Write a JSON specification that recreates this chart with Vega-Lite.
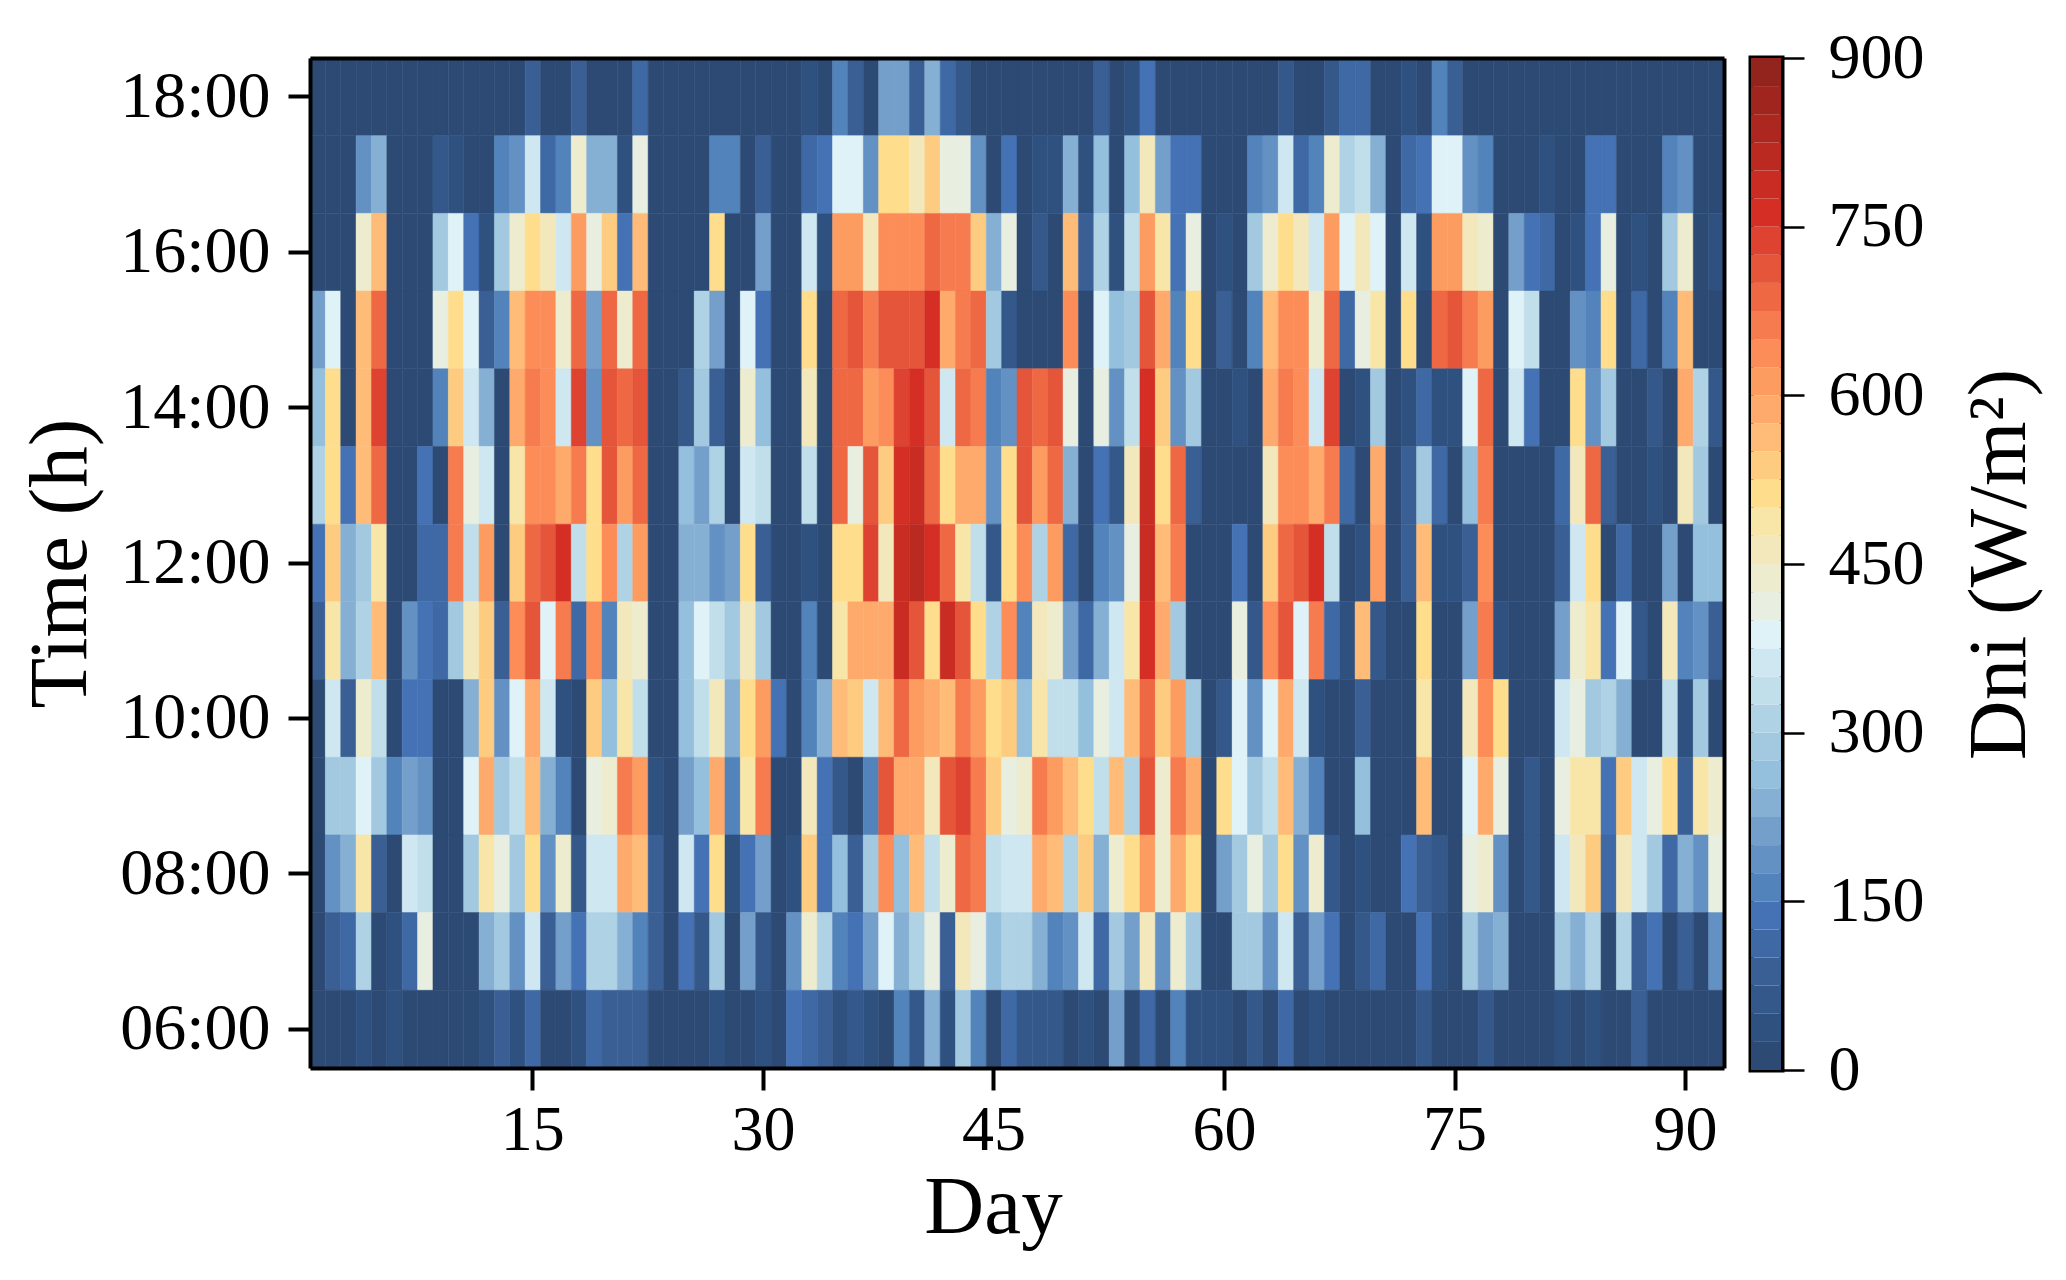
{"$schema":"https://vega.github.io/schema/vega-lite/v6.json","background":"white","padding":{"left":19,"top":23,"right":10,"bottom":10},"spacing":23,"bounds":"full","config":{"font":"Liberation Serif","view":{"stroke":null},"axis":{"labelFont":"Liberation Serif","titleFont":"Liberation Serif","labelColor":"black","titleColor":"black","titleFontWeight":"normal","grid":false}},"datasets":{"cells":[
{"day":1,"hour":18,"dni":12},{"day":2,"hour":18,"dni":12},{"day":3,"hour":18,"dni":12},{"day":4,"hour":18,"dni":12},{"day":5,"hour":18,"dni":12},{"day":6,"hour":18,"dni":12},{"day":7,"hour":18,"dni":12},{"day":8,"hour":18,"dni":12},{"day":9,"hour":18,"dni":12},{"day":10,"hour":18,"dni":12},{"day":11,"hour":18,"dni":12},{"day":12,"hour":18,"dni":12},{"day":13,"hour":18,"dni":12},{"day":14,"hour":18,"dni":12},{"day":15,"hour":18,"dni":87},{"day":16,"hour":18,"dni":12},{"day":17,"hour":18,"dni":12},{"day":18,"hour":18,"dni":87},{"day":19,"hour":18,"dni":12},{"day":20,"hour":18,"dni":12},{"day":21,"hour":18,"dni":12},{"day":22,"hour":18,"dni":112},{"day":23,"hour":18,"dni":12},{"day":24,"hour":18,"dni":12},{"day":25,"hour":18,"dni":12},{"day":26,"hour":18,"dni":12},{"day":27,"hour":18,"dni":12},{"day":28,"hour":18,"dni":12},{"day":29,"hour":18,"dni":12},{"day":30,"hour":18,"dni":12},{"day":31,"hour":18,"dni":12},{"day":32,"hour":18,"dni":12},{"day":33,"hour":18,"dni":37},{"day":34,"hour":18,"dni":12},{"day":35,"hour":18,"dni":162},{"day":36,"hour":18,"dni":87},{"day":37,"hour":18,"dni":12},{"day":38,"hour":18,"dni":212},{"day":39,"hour":18,"dni":212},{"day":40,"hour":18,"dni":87},{"day":41,"hour":18,"dni":237},{"day":42,"hour":18,"dni":112},{"day":43,"hour":18,"dni":62},{"day":44,"hour":18,"dni":12},{"day":45,"hour":18,"dni":12},{"day":46,"hour":18,"dni":12},{"day":47,"hour":18,"dni":12},{"day":48,"hour":18,"dni":12},{"day":49,"hour":18,"dni":12},{"day":50,"hour":18,"dni":12},{"day":51,"hour":18,"dni":12},{"day":52,"hour":18,"dni":87},{"day":53,"hour":18,"dni":12},{"day":54,"hour":18,"dni":37},{"day":55,"hour":18,"dni":137},{"day":56,"hour":18,"dni":12},{"day":57,"hour":18,"dni":12},{"day":58,"hour":18,"dni":12},{"day":59,"hour":18,"dni":12},{"day":60,"hour":18,"dni":12},{"day":61,"hour":18,"dni":12},{"day":62,"hour":18,"dni":12},{"day":63,"hour":18,"dni":12},{"day":64,"hour":18,"dni":62},{"day":65,"hour":18,"dni":12},{"day":66,"hour":18,"dni":12},{"day":67,"hour":18,"dni":62},{"day":68,"hour":18,"dni":112},{"day":69,"hour":18,"dni":112},{"day":70,"hour":18,"dni":12},{"day":71,"hour":18,"dni":12},{"day":72,"hour":18,"dni":37},{"day":73,"hour":18,"dni":12},{"day":74,"hour":18,"dni":162},{"day":75,"hour":18,"dni":87},{"day":76,"hour":18,"dni":12},{"day":77,"hour":18,"dni":12},{"day":78,"hour":18,"dni":12},{"day":79,"hour":18,"dni":12},{"day":80,"hour":18,"dni":12},{"day":81,"hour":18,"dni":12},{"day":82,"hour":18,"dni":12},{"day":83,"hour":18,"dni":12},{"day":84,"hour":18,"dni":12},{"day":85,"hour":18,"dni":12},{"day":86,"hour":18,"dni":12},{"day":87,"hour":18,"dni":12},{"day":88,"hour":18,"dni":12},{"day":89,"hour":18,"dni":12},{"day":90,"hour":18,"dni":12},{"day":91,"hour":18,"dni":12},{"day":92,"hour":18,"dni":12},
{"day":1,"hour":17,"dni":12},{"day":2,"hour":17,"dni":12},{"day":3,"hour":17,"dni":12},{"day":4,"hour":17,"dni":187},{"day":5,"hour":17,"dni":237},{"day":6,"hour":17,"dni":12},{"day":7,"hour":17,"dni":12},{"day":8,"hour":17,"dni":12},{"day":9,"hour":17,"dni":62},{"day":10,"hour":17,"dni":37},{"day":11,"hour":17,"dni":12},{"day":12,"hour":17,"dni":12},{"day":13,"hour":17,"dni":162},{"day":14,"hour":17,"dni":187},{"day":15,"hour":17,"dni":362},{"day":16,"hour":17,"dni":112},{"day":17,"hour":17,"dni":162},{"day":18,"hour":17,"dni":437},{"day":19,"hour":17,"dni":237},{"day":20,"hour":17,"dni":237},{"day":21,"hour":17,"dni":37},{"day":22,"hour":17,"dni":412},{"day":23,"hour":17,"dni":12},{"day":24,"hour":17,"dni":12},{"day":25,"hour":17,"dni":12},{"day":26,"hour":17,"dni":12},{"day":27,"hour":17,"dni":162},{"day":28,"hour":17,"dni":162},{"day":29,"hour":17,"dni":12},{"day":30,"hour":17,"dni":87},{"day":31,"hour":17,"dni":12},{"day":32,"hour":17,"dni":12},{"day":33,"hour":17,"dni":112},{"day":34,"hour":17,"dni":137},{"day":35,"hour":17,"dni":387},{"day":36,"hour":17,"dni":387},{"day":37,"hour":17,"dni":187},{"day":38,"hour":17,"dni":512},{"day":39,"hour":17,"dni":512},{"day":40,"hour":17,"dni":462},{"day":41,"hour":17,"dni":537},{"day":42,"hour":17,"dni":412},{"day":43,"hour":17,"dni":412},{"day":44,"hour":17,"dni":187},{"day":45,"hour":17,"dni":12},{"day":46,"hour":17,"dni":137},{"day":47,"hour":17,"dni":12},{"day":48,"hour":17,"dni":37},{"day":49,"hour":17,"dni":37},{"day":50,"hour":17,"dni":237},{"day":51,"hour":17,"dni":37},{"day":52,"hour":17,"dni":262},{"day":53,"hour":17,"dni":12},{"day":54,"hour":17,"dni":262},{"day":55,"hour":17,"dni":462},{"day":56,"hour":17,"dni":212},{"day":57,"hour":17,"dni":137},{"day":58,"hour":17,"dni":137},{"day":59,"hour":17,"dni":12},{"day":60,"hour":17,"dni":12},{"day":61,"hour":17,"dni":12},{"day":62,"hour":17,"dni":162},{"day":63,"hour":17,"dni":187},{"day":64,"hour":17,"dni":362},{"day":65,"hour":17,"dni":112},{"day":66,"hour":17,"dni":162},{"day":67,"hour":17,"dni":437},{"day":68,"hour":17,"dni":312},{"day":69,"hour":17,"dni":337},{"day":70,"hour":17,"dni":237},{"day":71,"hour":17,"dni":12},{"day":72,"hour":17,"dni":112},{"day":73,"hour":17,"dni":137},{"day":74,"hour":17,"dni":387},{"day":75,"hour":17,"dni":387},{"day":76,"hour":17,"dni":187},{"day":77,"hour":17,"dni":162},{"day":78,"hour":17,"dni":12},{"day":79,"hour":17,"dni":12},{"day":80,"hour":17,"dni":12},{"day":81,"hour":17,"dni":37},{"day":82,"hour":17,"dni":12},{"day":83,"hour":17,"dni":12},{"day":84,"hour":17,"dni":137},{"day":85,"hour":17,"dni":137},{"day":86,"hour":17,"dni":12},{"day":87,"hour":17,"dni":12},{"day":88,"hour":17,"dni":12},{"day":89,"hour":17,"dni":162},{"day":90,"hour":17,"dni":187},{"day":91,"hour":17,"dni":12},{"day":92,"hour":17,"dni":12},
{"day":1,"hour":16,"dni":12},{"day":2,"hour":16,"dni":12},{"day":3,"hour":16,"dni":12},{"day":4,"hour":16,"dni":437},{"day":5,"hour":16,"dni":562},{"day":6,"hour":16,"dni":12},{"day":7,"hour":16,"dni":12},{"day":8,"hour":16,"dni":12},{"day":9,"hour":16,"dni":287},{"day":10,"hour":16,"dni":387},{"day":11,"hour":16,"dni":137},{"day":12,"hour":16,"dni":37},{"day":13,"hour":16,"dni":287},{"day":14,"hour":16,"dni":437},{"day":15,"hour":16,"dni":512},{"day":16,"hour":16,"dni":462},{"day":17,"hour":16,"dni":362},{"day":18,"hour":16,"dni":612},{"day":19,"hour":16,"dni":412},{"day":20,"hour":16,"dni":537},{"day":21,"hour":16,"dni":137},{"day":22,"hour":16,"dni":562},{"day":23,"hour":16,"dni":12},{"day":24,"hour":16,"dni":12},{"day":25,"hour":16,"dni":12},{"day":26,"hour":16,"dni":12},{"day":27,"hour":16,"dni":512},{"day":28,"hour":16,"dni":12},{"day":29,"hour":16,"dni":12},{"day":30,"hour":16,"dni":212},{"day":31,"hour":16,"dni":12},{"day":32,"hour":16,"dni":12},{"day":33,"hour":16,"dni":362},{"day":34,"hour":16,"dni":37},{"day":35,"hour":16,"dni":612},{"day":36,"hour":16,"dni":612},{"day":37,"hour":16,"dni":462},{"day":38,"hour":16,"dni":637},{"day":39,"hour":16,"dni":637},{"day":40,"hour":16,"dni":637},{"day":41,"hour":16,"dni":687},{"day":42,"hour":16,"dni":662},{"day":43,"hour":16,"dni":662},{"day":44,"hour":16,"dni":537},{"day":45,"hour":16,"dni":237},{"day":46,"hour":16,"dni":412},{"day":47,"hour":16,"dni":12},{"day":48,"hour":16,"dni":62},{"day":49,"hour":16,"dni":12},{"day":50,"hour":16,"dni":562},{"day":51,"hour":16,"dni":87},{"day":52,"hour":16,"dni":312},{"day":53,"hour":16,"dni":37},{"day":54,"hour":16,"dni":337},{"day":55,"hour":16,"dni":612},{"day":56,"hour":16,"dni":487},{"day":57,"hour":16,"dni":137},{"day":58,"hour":16,"dni":412},{"day":59,"hour":16,"dni":12},{"day":60,"hour":16,"dni":37},{"day":61,"hour":16,"dni":12},{"day":62,"hour":16,"dni":287},{"day":63,"hour":16,"dni":437},{"day":64,"hour":16,"dni":512},{"day":65,"hour":16,"dni":462},{"day":66,"hour":16,"dni":362},{"day":67,"hour":16,"dni":612},{"day":68,"hour":16,"dni":387},{"day":69,"hour":16,"dni":462},{"day":70,"hour":16,"dni":387},{"day":71,"hour":16,"dni":12},{"day":72,"hour":16,"dni":362},{"day":73,"hour":16,"dni":37},{"day":74,"hour":16,"dni":612},{"day":75,"hour":16,"dni":612},{"day":76,"hour":16,"dni":462},{"day":77,"hour":16,"dni":437},{"day":78,"hour":16,"dni":12},{"day":79,"hour":16,"dni":212},{"day":80,"hour":16,"dni":137},{"day":81,"hour":16,"dni":112},{"day":82,"hour":16,"dni":12},{"day":83,"hour":16,"dni":37},{"day":84,"hour":16,"dni":137},{"day":85,"hour":16,"dni":412},{"day":86,"hour":16,"dni":12},{"day":87,"hour":16,"dni":37},{"day":88,"hour":16,"dni":12},{"day":89,"hour":16,"dni":287},{"day":90,"hour":16,"dni":437},{"day":91,"hour":16,"dni":12},{"day":92,"hour":16,"dni":37},
{"day":1,"hour":15,"dni":212},{"day":2,"hour":15,"dni":387},{"day":3,"hour":15,"dni":12},{"day":4,"hour":15,"dni":562},{"day":5,"hour":15,"dni":687},{"day":6,"hour":15,"dni":12},{"day":7,"hour":15,"dni":12},{"day":8,"hour":15,"dni":12},{"day":9,"hour":15,"dni":412},{"day":10,"hour":15,"dni":512},{"day":11,"hour":15,"dni":387},{"day":12,"hour":15,"dni":87},{"day":13,"hour":15,"dni":162},{"day":14,"hour":15,"dni":562},{"day":15,"hour":15,"dni":637},{"day":16,"hour":15,"dni":637},{"day":17,"hour":15,"dni":437},{"day":18,"hour":15,"dni":687},{"day":19,"hour":15,"dni":212},{"day":20,"hour":15,"dni":687},{"day":21,"hour":15,"dni":437},{"day":22,"hour":15,"dni":687},{"day":23,"hour":15,"dni":12},{"day":24,"hour":15,"dni":12},{"day":25,"hour":15,"dni":12},{"day":26,"hour":15,"dni":312},{"day":27,"hour":15,"dni":212},{"day":28,"hour":15,"dni":12},{"day":29,"hour":15,"dni":387},{"day":30,"hour":15,"dni":137},{"day":31,"hour":15,"dni":12},{"day":32,"hour":15,"dni":12},{"day":33,"hour":15,"dni":512},{"day":34,"hour":15,"dni":12},{"day":35,"hour":15,"dni":687},{"day":36,"hour":15,"dni":712},{"day":37,"hour":15,"dni":662},{"day":38,"hour":15,"dni":712},{"day":39,"hour":15,"dni":712},{"day":40,"hour":15,"dni":712},{"day":41,"hour":15,"dni":762},{"day":42,"hour":15,"dni":587},{"day":43,"hour":15,"dni":662},{"day":44,"hour":15,"dni":687},{"day":45,"hour":15,"dni":287},{"day":46,"hour":15,"dni":62},{"day":47,"hour":15,"dni":12},{"day":48,"hour":15,"dni":12},{"day":49,"hour":15,"dni":12},{"day":50,"hour":15,"dni":637},{"day":51,"hour":15,"dni":12},{"day":52,"hour":15,"dni":387},{"day":53,"hour":15,"dni":262},{"day":54,"hour":15,"dni":287},{"day":55,"hour":15,"dni":712},{"day":56,"hour":15,"dni":587},{"day":57,"hour":15,"dni":162},{"day":58,"hour":15,"dni":512},{"day":59,"hour":15,"dni":12},{"day":60,"hour":15,"dni":87},{"day":61,"hour":15,"dni":12},{"day":62,"hour":15,"dni":162},{"day":63,"hour":15,"dni":562},{"day":64,"hour":15,"dni":637},{"day":65,"hour":15,"dni":637},{"day":66,"hour":15,"dni":437},{"day":67,"hour":15,"dni":687},{"day":68,"hour":15,"dni":112},{"day":69,"hour":15,"dni":412},{"day":70,"hour":15,"dni":487},{"day":71,"hour":15,"dni":12},{"day":72,"hour":15,"dni":512},{"day":73,"hour":15,"dni":12},{"day":74,"hour":15,"dni":687},{"day":75,"hour":15,"dni":712},{"day":76,"hour":15,"dni":662},{"day":77,"hour":15,"dni":612},{"day":78,"hour":15,"dni":12},{"day":79,"hour":15,"dni":387},{"day":80,"hour":15,"dni":337},{"day":81,"hour":15,"dni":12},{"day":82,"hour":15,"dni":12},{"day":83,"hour":15,"dni":187},{"day":84,"hour":15,"dni":162},{"day":85,"hour":15,"dni":512},{"day":86,"hour":15,"dni":12},{"day":87,"hour":15,"dni":112},{"day":88,"hour":15,"dni":12},{"day":89,"hour":15,"dni":162},{"day":90,"hour":15,"dni":562},{"day":91,"hour":15,"dni":12},{"day":92,"hour":15,"dni":12},
{"day":1,"hour":14,"dni":262},{"day":2,"hour":14,"dni":512},{"day":3,"hour":14,"dni":12},{"day":4,"hour":14,"dni":562},{"day":5,"hour":14,"dni":737},{"day":6,"hour":14,"dni":12},{"day":7,"hour":14,"dni":12},{"day":8,"hour":14,"dni":12},{"day":9,"hour":14,"dni":162},{"day":10,"hour":14,"dni":537},{"day":11,"hour":14,"dni":362},{"day":12,"hour":14,"dni":237},{"day":13,"hour":14,"dni":12},{"day":14,"hour":14,"dni":587},{"day":15,"hour":14,"dni":662},{"day":16,"hour":14,"dni":637},{"day":17,"hour":14,"dni":362},{"day":18,"hour":14,"dni":737},{"day":19,"hour":14,"dni":187},{"day":20,"hour":14,"dni":712},{"day":21,"hour":14,"dni":687},{"day":22,"hour":14,"dni":712},{"day":23,"hour":14,"dni":12},{"day":24,"hour":14,"dni":12},{"day":25,"hour":14,"dni":62},{"day":26,"hour":14,"dni":287},{"day":27,"hour":14,"dni":87},{"day":28,"hour":14,"dni":12},{"day":29,"hour":14,"dni":437},{"day":30,"hour":14,"dni":262},{"day":31,"hour":14,"dni":12},{"day":32,"hour":14,"dni":12},{"day":33,"hour":14,"dni":462},{"day":34,"hour":14,"dni":12},{"day":35,"hour":14,"dni":687},{"day":36,"hour":14,"dni":687},{"day":37,"hour":14,"dni":612},{"day":38,"hour":14,"dni":637},{"day":39,"hour":14,"dni":737},{"day":40,"hour":14,"dni":762},{"day":41,"hour":14,"dni":712},{"day":42,"hour":14,"dni":362},{"day":43,"hour":14,"dni":687},{"day":44,"hour":14,"dni":662},{"day":45,"hour":14,"dni":162},{"day":46,"hour":14,"dni":187},{"day":47,"hour":14,"dni":712},{"day":48,"hour":14,"dni":687},{"day":49,"hour":14,"dni":712},{"day":50,"hour":14,"dni":412},{"day":51,"hour":14,"dni":12},{"day":52,"hour":14,"dni":412},{"day":53,"hour":14,"dni":187},{"day":54,"hour":14,"dni":337},{"day":55,"hour":14,"dni":762},{"day":56,"hour":14,"dni":537},{"day":57,"hour":14,"dni":187},{"day":58,"hour":14,"dni":287},{"day":59,"hour":14,"dni":12},{"day":60,"hour":14,"dni":12},{"day":61,"hour":14,"dni":37},{"day":62,"hour":14,"dni":12},{"day":63,"hour":14,"dni":587},{"day":64,"hour":14,"dni":662},{"day":65,"hour":14,"dni":637},{"day":66,"hour":14,"dni":362},{"day":67,"hour":14,"dni":737},{"day":68,"hour":14,"dni":12},{"day":69,"hour":14,"dni":37},{"day":70,"hour":14,"dni":287},{"day":71,"hour":14,"dni":12},{"day":72,"hour":14,"dni":37},{"day":73,"hour":14,"dni":112},{"day":74,"hour":14,"dni":37},{"day":75,"hour":14,"dni":37},{"day":76,"hour":14,"dni":387},{"day":77,"hour":14,"dni":687},{"day":78,"hour":14,"dni":12},{"day":79,"hour":14,"dni":362},{"day":80,"hour":14,"dni":137},{"day":81,"hour":14,"dni":12},{"day":82,"hour":14,"dni":12},{"day":83,"hour":14,"dni":512},{"day":84,"hour":14,"dni":187},{"day":85,"hour":14,"dni":287},{"day":86,"hour":14,"dni":12},{"day":87,"hour":14,"dni":12},{"day":88,"hour":14,"dni":62},{"day":89,"hour":14,"dni":12},{"day":90,"hour":14,"dni":587},{"day":91,"hour":14,"dni":312},{"day":92,"hour":14,"dni":62},
{"day":1,"hour":13,"dni":312},{"day":2,"hour":13,"dni":512},{"day":3,"hour":13,"dni":137},{"day":4,"hour":13,"dni":562},{"day":5,"hour":13,"dni":687},{"day":6,"hour":13,"dni":12},{"day":7,"hour":13,"dni":12},{"day":8,"hour":13,"dni":137},{"day":9,"hour":13,"dni":12},{"day":10,"hour":13,"dni":662},{"day":11,"hour":13,"dni":412},{"day":12,"hour":13,"dni":362},{"day":13,"hour":13,"dni":12},{"day":14,"hour":13,"dni":487},{"day":15,"hour":13,"dni":637},{"day":16,"hour":13,"dni":637},{"day":17,"hour":13,"dni":587},{"day":18,"hour":13,"dni":662},{"day":19,"hour":13,"dni":512},{"day":20,"hour":13,"dni":712},{"day":21,"hour":13,"dni":612},{"day":22,"hour":13,"dni":687},{"day":23,"hour":13,"dni":12},{"day":24,"hour":13,"dni":12},{"day":25,"hour":13,"dni":262},{"day":26,"hour":13,"dni":212},{"day":27,"hour":13,"dni":312},{"day":28,"hour":13,"dni":12},{"day":29,"hour":13,"dni":362},{"day":30,"hour":13,"dni":337},{"day":31,"hour":13,"dni":12},{"day":32,"hour":13,"dni":12},{"day":33,"hour":13,"dni":337},{"day":34,"hour":13,"dni":12},{"day":35,"hour":13,"dni":687},{"day":36,"hour":13,"dni":412},{"day":37,"hour":13,"dni":712},{"day":38,"hour":13,"dni":537},{"day":39,"hour":13,"dni":762},{"day":40,"hour":13,"dni":787},{"day":41,"hour":13,"dni":687},{"day":42,"hour":13,"dni":512},{"day":43,"hour":13,"dni":587},{"day":44,"hour":13,"dni":587},{"day":45,"hour":13,"dni":187},{"day":46,"hour":13,"dni":512},{"day":47,"hour":13,"dni":712},{"day":48,"hour":13,"dni":612},{"day":49,"hour":13,"dni":687},{"day":50,"hour":13,"dni":237},{"day":51,"hour":13,"dni":12},{"day":52,"hour":13,"dni":137},{"day":53,"hour":13,"dni":62},{"day":54,"hour":13,"dni":462},{"day":55,"hour":13,"dni":787},{"day":56,"hour":13,"dni":512},{"day":57,"hour":13,"dni":687},{"day":58,"hour":13,"dni":87},{"day":59,"hour":13,"dni":12},{"day":60,"hour":13,"dni":12},{"day":61,"hour":13,"dni":12},{"day":62,"hour":13,"dni":12},{"day":63,"hour":13,"dni":462},{"day":64,"hour":13,"dni":637},{"day":65,"hour":13,"dni":637},{"day":66,"hour":13,"dni":587},{"day":67,"hour":13,"dni":662},{"day":68,"hour":13,"dni":112},{"day":69,"hour":13,"dni":12},{"day":70,"hour":13,"dni":587},{"day":71,"hour":13,"dni":12},{"day":72,"hour":13,"dni":87},{"day":73,"hour":13,"dni":287},{"day":74,"hour":13,"dni":112},{"day":75,"hour":13,"dni":12},{"day":76,"hour":13,"dni":262},{"day":77,"hour":13,"dni":662},{"day":78,"hour":13,"dni":12},{"day":79,"hour":13,"dni":12},{"day":80,"hour":13,"dni":12},{"day":81,"hour":13,"dni":12},{"day":82,"hour":13,"dni":112},{"day":83,"hour":13,"dni":462},{"day":84,"hour":13,"dni":687},{"day":85,"hour":13,"dni":87},{"day":86,"hour":13,"dni":12},{"day":87,"hour":13,"dni":12},{"day":88,"hour":13,"dni":37},{"day":89,"hour":13,"dni":12},{"day":90,"hour":13,"dni":462},{"day":91,"hour":13,"dni":287},{"day":92,"hour":13,"dni":12},
{"day":1,"hour":12,"dni":137},{"day":2,"hour":12,"dni":537},{"day":3,"hour":12,"dni":237},{"day":4,"hour":12,"dni":287},{"day":5,"hour":12,"dni":487},{"day":6,"hour":12,"dni":12},{"day":7,"hour":12,"dni":12},{"day":8,"hour":12,"dni":112},{"day":9,"hour":12,"dni":112},{"day":10,"hour":12,"dni":662},{"day":11,"hour":12,"dni":337},{"day":12,"hour":12,"dni":612},{"day":13,"hour":12,"dni":12},{"day":14,"hour":12,"dni":537},{"day":15,"hour":12,"dni":687},{"day":16,"hour":12,"dni":712},{"day":17,"hour":12,"dni":762},{"day":18,"hour":12,"dni":337},{"day":19,"hour":12,"dni":512},{"day":20,"hour":12,"dni":637},{"day":21,"hour":12,"dni":312},{"day":22,"hour":12,"dni":612},{"day":23,"hour":12,"dni":12},{"day":24,"hour":12,"dni":12},{"day":25,"hour":12,"dni":237},{"day":26,"hour":12,"dni":237},{"day":27,"hour":12,"dni":187},{"day":28,"hour":12,"dni":212},{"day":29,"hour":12,"dni":512},{"day":30,"hour":12,"dni":87},{"day":31,"hour":12,"dni":12},{"day":32,"hour":12,"dni":12},{"day":33,"hour":12,"dni":37},{"day":34,"hour":12,"dni":12},{"day":35,"hour":12,"dni":512},{"day":36,"hour":12,"dni":512},{"day":37,"hour":12,"dni":737},{"day":38,"hour":12,"dni":462},{"day":39,"hour":12,"dni":787},{"day":40,"hour":12,"dni":812},{"day":41,"hour":12,"dni":762},{"day":42,"hour":12,"dni":687},{"day":43,"hour":12,"dni":487},{"day":44,"hour":12,"dni":337},{"day":45,"hour":12,"dni":62},{"day":46,"hour":12,"dni":512},{"day":47,"hour":12,"dni":637},{"day":48,"hour":12,"dni":312},{"day":49,"hour":12,"dni":612},{"day":50,"hour":12,"dni":112},{"day":51,"hour":12,"dni":12},{"day":52,"hour":12,"dni":162},{"day":53,"hour":12,"dni":187},{"day":54,"hour":12,"dni":412},{"day":55,"hour":12,"dni":787},{"day":56,"hour":12,"dni":562},{"day":57,"hour":12,"dni":662},{"day":58,"hour":12,"dni":12},{"day":59,"hour":12,"dni":12},{"day":60,"hour":12,"dni":12},{"day":61,"hour":12,"dni":137},{"day":62,"hour":12,"dni":12},{"day":63,"hour":12,"dni":537},{"day":64,"hour":12,"dni":687},{"day":65,"hour":12,"dni":712},{"day":66,"hour":12,"dni":762},{"day":67,"hour":12,"dni":337},{"day":68,"hour":12,"dni":12},{"day":69,"hour":12,"dni":37},{"day":70,"hour":12,"dni":612},{"day":71,"hour":12,"dni":12},{"day":72,"hour":12,"dni":87},{"day":73,"hour":12,"dni":562},{"day":74,"hour":12,"dni":37},{"day":75,"hour":12,"dni":37},{"day":76,"hour":12,"dni":87},{"day":77,"hour":12,"dni":637},{"day":78,"hour":12,"dni":12},{"day":79,"hour":12,"dni":12},{"day":80,"hour":12,"dni":12},{"day":81,"hour":12,"dni":12},{"day":82,"hour":12,"dni":87},{"day":83,"hour":12,"dni":362},{"day":84,"hour":12,"dni":512},{"day":85,"hour":12,"dni":12},{"day":86,"hour":12,"dni":112},{"day":87,"hour":12,"dni":12},{"day":88,"hour":12,"dni":12},{"day":89,"hour":12,"dni":212},{"day":90,"hour":12,"dni":12},{"day":91,"hour":12,"dni":262},{"day":92,"hour":12,"dni":262},
{"day":1,"hour":11,"dni":87},{"day":2,"hour":11,"dni":487},{"day":3,"hour":11,"dni":237},{"day":4,"hour":11,"dni":312},{"day":5,"hour":11,"dni":562},{"day":6,"hour":11,"dni":12},{"day":7,"hour":11,"dni":187},{"day":8,"hour":11,"dni":137},{"day":9,"hour":11,"dni":112},{"day":10,"hour":11,"dni":287},{"day":11,"hour":11,"dni":462},{"day":12,"hour":11,"dni":537},{"day":13,"hour":11,"dni":87},{"day":14,"hour":11,"dni":637},{"day":15,"hour":11,"dni":712},{"day":16,"hour":11,"dni":387},{"day":17,"hour":11,"dni":662},{"day":18,"hour":11,"dni":112},{"day":19,"hour":11,"dni":637},{"day":20,"hour":11,"dni":162},{"day":21,"hour":11,"dni":462},{"day":22,"hour":11,"dni":437},{"day":23,"hour":11,"dni":12},{"day":24,"hour":11,"dni":12},{"day":25,"hour":11,"dni":262},{"day":26,"hour":11,"dni":387},{"day":27,"hour":11,"dni":337},{"day":28,"hour":11,"dni":287},{"day":29,"hour":11,"dni":462},{"day":30,"hour":11,"dni":287},{"day":31,"hour":11,"dni":12},{"day":32,"hour":11,"dni":12},{"day":33,"hour":11,"dni":162},{"day":34,"hour":11,"dni":12},{"day":35,"hour":11,"dni":487},{"day":36,"hour":11,"dni":587},{"day":37,"hour":11,"dni":587},{"day":38,"hour":11,"dni":587},{"day":39,"hour":11,"dni":787},{"day":40,"hour":11,"dni":712},{"day":41,"hour":11,"dni":512},{"day":42,"hour":11,"dni":787},{"day":43,"hour":11,"dni":712},{"day":44,"hour":11,"dni":512},{"day":45,"hour":11,"dni":312},{"day":46,"hour":11,"dni":637},{"day":47,"hour":11,"dni":162},{"day":48,"hour":11,"dni":462},{"day":49,"hour":11,"dni":437},{"day":50,"hour":11,"dni":212},{"day":51,"hour":11,"dni":112},{"day":52,"hour":11,"dni":237},{"day":53,"hour":11,"dni":362},{"day":54,"hour":11,"dni":487},{"day":55,"hour":11,"dni":762},{"day":56,"hour":11,"dni":587},{"day":57,"hour":11,"dni":287},{"day":58,"hour":11,"dni":12},{"day":59,"hour":11,"dni":12},{"day":60,"hour":11,"dni":12},{"day":61,"hour":11,"dni":412},{"day":62,"hour":11,"dni":62},{"day":63,"hour":11,"dni":637},{"day":64,"hour":11,"dni":712},{"day":65,"hour":11,"dni":387},{"day":66,"hour":11,"dni":662},{"day":67,"hour":11,"dni":112},{"day":68,"hour":11,"dni":37},{"day":69,"hour":11,"dni":562},{"day":70,"hour":11,"dni":62},{"day":71,"hour":11,"dni":12},{"day":72,"hour":11,"dni":12},{"day":73,"hour":11,"dni":512},{"day":74,"hour":11,"dni":12},{"day":75,"hour":11,"dni":12},{"day":76,"hour":11,"dni":212},{"day":77,"hour":11,"dni":662},{"day":78,"hour":11,"dni":37},{"day":79,"hour":11,"dni":12},{"day":80,"hour":11,"dni":12},{"day":81,"hour":11,"dni":12},{"day":82,"hour":11,"dni":212},{"day":83,"hour":11,"dni":437},{"day":84,"hour":11,"dni":487},{"day":85,"hour":11,"dni":137},{"day":86,"hour":11,"dni":387},{"day":87,"hour":11,"dni":62},{"day":88,"hour":11,"dni":12},{"day":89,"hour":11,"dni":462},{"day":90,"hour":11,"dni":162},{"day":91,"hour":11,"dni":187},{"day":92,"hour":11,"dni":87},
{"day":1,"hour":10,"dni":12},{"day":2,"hour":10,"dni":362},{"day":3,"hour":10,"dni":87},{"day":4,"hour":10,"dni":437},{"day":5,"hour":10,"dni":337},{"day":6,"hour":10,"dni":12},{"day":7,"hour":10,"dni":137},{"day":8,"hour":10,"dni":137},{"day":9,"hour":10,"dni":12},{"day":10,"hour":10,"dni":12},{"day":11,"hour":10,"dni":237},{"day":12,"hour":10,"dni":537},{"day":13,"hour":10,"dni":187},{"day":14,"hour":10,"dni":387},{"day":15,"hour":10,"dni":587},{"day":16,"hour":10,"dni":362},{"day":17,"hour":10,"dni":37},{"day":18,"hour":10,"dni":12},{"day":19,"hour":10,"dni":537},{"day":20,"hour":10,"dni":262},{"day":21,"hour":10,"dni":487},{"day":22,"hour":10,"dni":337},{"day":23,"hour":10,"dni":12},{"day":24,"hour":10,"dni":12},{"day":25,"hour":10,"dni":262},{"day":26,"hour":10,"dni":337},{"day":27,"hour":10,"dni":462},{"day":28,"hour":10,"dni":237},{"day":29,"hour":10,"dni":512},{"day":30,"hour":10,"dni":612},{"day":31,"hour":10,"dni":137},{"day":32,"hour":10,"dni":12},{"day":33,"hour":10,"dni":162},{"day":34,"hour":10,"dni":237},{"day":35,"hour":10,"dni":562},{"day":36,"hour":10,"dni":537},{"day":37,"hour":10,"dni":362},{"day":38,"hour":10,"dni":562},{"day":39,"hour":10,"dni":687},{"day":40,"hour":10,"dni":612},{"day":41,"hour":10,"dni":587},{"day":42,"hour":10,"dni":562},{"day":43,"hour":10,"dni":662},{"day":44,"hour":10,"dni":612},{"day":45,"hour":10,"dni":512},{"day":46,"hour":10,"dni":537},{"day":47,"hour":10,"dni":262},{"day":48,"hour":10,"dni":487},{"day":49,"hour":10,"dni":337},{"day":50,"hour":10,"dni":337},{"day":51,"hour":10,"dni":262},{"day":52,"hour":10,"dni":412},{"day":53,"hour":10,"dni":362},{"day":54,"hour":10,"dni":562},{"day":55,"hour":10,"dni":687},{"day":56,"hour":10,"dni":537},{"day":57,"hour":10,"dni":612},{"day":58,"hour":10,"dni":287},{"day":59,"hour":10,"dni":12},{"day":60,"hour":10,"dni":62},{"day":61,"hour":10,"dni":387},{"day":62,"hour":10,"dni":187},{"day":63,"hour":10,"dni":387},{"day":64,"hour":10,"dni":587},{"day":65,"hour":10,"dni":362},{"day":66,"hour":10,"dni":37},{"day":67,"hour":10,"dni":12},{"day":68,"hour":10,"dni":12},{"day":69,"hour":10,"dni":87},{"day":70,"hour":10,"dni":12},{"day":71,"hour":10,"dni":12},{"day":72,"hour":10,"dni":12},{"day":73,"hour":10,"dni":487},{"day":74,"hour":10,"dni":12},{"day":75,"hour":10,"dni":12},{"day":76,"hour":10,"dni":462},{"day":77,"hour":10,"dni":637},{"day":78,"hour":10,"dni":512},{"day":79,"hour":10,"dni":12},{"day":80,"hour":10,"dni":12},{"day":81,"hour":10,"dni":12},{"day":82,"hour":10,"dni":362},{"day":83,"hour":10,"dni":412},{"day":84,"hour":10,"dni":287},{"day":85,"hour":10,"dni":312},{"day":86,"hour":10,"dni":237},{"day":87,"hour":10,"dni":12},{"day":88,"hour":10,"dni":12},{"day":89,"hour":10,"dni":337},{"day":90,"hour":10,"dni":37},{"day":91,"hour":10,"dni":287},{"day":92,"hour":10,"dni":12},
{"day":1,"hour":9,"dni":12},{"day":2,"hour":9,"dni":287},{"day":3,"hour":9,"dni":287},{"day":4,"hour":9,"dni":387},{"day":5,"hour":9,"dni":287},{"day":6,"hour":9,"dni":162},{"day":7,"hour":9,"dni":212},{"day":8,"hour":9,"dni":187},{"day":9,"hour":9,"dni":12},{"day":10,"hour":9,"dni":12},{"day":11,"hour":9,"dni":387},{"day":12,"hour":9,"dni":587},{"day":13,"hour":9,"dni":287},{"day":14,"hour":9,"dni":337},{"day":15,"hour":9,"dni":562},{"day":16,"hour":9,"dni":237},{"day":17,"hour":9,"dni":162},{"day":18,"hour":9,"dni":12},{"day":19,"hour":9,"dni":412},{"day":20,"hour":9,"dni":437},{"day":21,"hour":9,"dni":662},{"day":22,"hour":9,"dni":612},{"day":23,"hour":9,"dni":37},{"day":24,"hour":9,"dni":12},{"day":25,"hour":9,"dni":212},{"day":26,"hour":9,"dni":262},{"day":27,"hour":9,"dni":587},{"day":28,"hour":9,"dni":162},{"day":29,"hour":9,"dni":487},{"day":30,"hour":9,"dni":662},{"day":31,"hour":9,"dni":12},{"day":32,"hour":9,"dni":12},{"day":33,"hour":9,"dni":462},{"day":34,"hour":9,"dni":137},{"day":35,"hour":9,"dni":62},{"day":36,"hour":9,"dni":12},{"day":37,"hour":9,"dni":162},{"day":38,"hour":9,"dni":712},{"day":39,"hour":9,"dni":587},{"day":40,"hour":9,"dni":587},{"day":41,"hour":9,"dni":462},{"day":42,"hour":9,"dni":712},{"day":43,"hour":9,"dni":737},{"day":44,"hour":9,"dni":662},{"day":45,"hour":9,"dni":537},{"day":46,"hour":9,"dni":412},{"day":47,"hour":9,"dni":437},{"day":48,"hour":9,"dni":662},{"day":49,"hour":9,"dni":612},{"day":50,"hour":9,"dni":562},{"day":51,"hour":9,"dni":512},{"day":52,"hour":9,"dni":337},{"day":53,"hour":9,"dni":562},{"day":54,"hour":9,"dni":312},{"day":55,"hour":9,"dni":712},{"day":56,"hour":9,"dni":437},{"day":57,"hour":9,"dni":662},{"day":58,"hour":9,"dni":587},{"day":59,"hour":9,"dni":12},{"day":60,"hour":9,"dni":512},{"day":61,"hour":9,"dni":387},{"day":62,"hour":9,"dni":287},{"day":63,"hour":9,"dni":337},{"day":64,"hour":9,"dni":562},{"day":65,"hour":9,"dni":237},{"day":66,"hour":9,"dni":162},{"day":67,"hour":9,"dni":12},{"day":68,"hour":9,"dni":12},{"day":69,"hour":9,"dni":262},{"day":70,"hour":9,"dni":12},{"day":71,"hour":9,"dni":12},{"day":72,"hour":9,"dni":12},{"day":73,"hour":9,"dni":562},{"day":74,"hour":9,"dni":12},{"day":75,"hour":9,"dni":12},{"day":76,"hour":9,"dni":387},{"day":77,"hour":9,"dni":587},{"day":78,"hour":9,"dni":412},{"day":79,"hour":9,"dni":12},{"day":80,"hour":9,"dni":62},{"day":81,"hour":9,"dni":12},{"day":82,"hour":9,"dni":412},{"day":83,"hour":9,"dni":487},{"day":84,"hour":9,"dni":487},{"day":85,"hour":9,"dni":137},{"day":86,"hour":9,"dni":537},{"day":87,"hour":9,"dni":362},{"day":88,"hour":9,"dni":412},{"day":89,"hour":9,"dni":512},{"day":90,"hour":9,"dni":87},{"day":91,"hour":9,"dni":487},{"day":92,"hour":9,"dni":437},
{"day":1,"hour":8,"dni":12},{"day":2,"hour":8,"dni":187},{"day":3,"hour":8,"dni":237},{"day":4,"hour":8,"dni":487},{"day":5,"hour":8,"dni":87},{"day":6,"hour":8,"dni":12},{"day":7,"hour":8,"dni":362},{"day":8,"hour":8,"dni":337},{"day":9,"hour":8,"dni":12},{"day":10,"hour":8,"dni":12},{"day":11,"hour":8,"dni":287},{"day":12,"hour":8,"dni":487},{"day":13,"hour":8,"dni":412},{"day":14,"hour":8,"dni":287},{"day":15,"hour":8,"dni":512},{"day":16,"hour":8,"dni":187},{"day":17,"hour":8,"dni":437},{"day":18,"hour":8,"dni":62},{"day":19,"hour":8,"dni":362},{"day":20,"hour":8,"dni":362},{"day":21,"hour":8,"dni":587},{"day":22,"hour":8,"dni":562},{"day":23,"hour":8,"dni":87},{"day":24,"hour":8,"dni":12},{"day":25,"hour":8,"dni":362},{"day":26,"hour":8,"dni":137},{"day":27,"hour":8,"dni":512},{"day":28,"hour":8,"dni":37},{"day":29,"hour":8,"dni":137},{"day":30,"hour":8,"dni":212},{"day":31,"hour":8,"dni":12},{"day":32,"hour":8,"dni":37},{"day":33,"hour":8,"dni":537},{"day":34,"hour":8,"dni":137},{"day":35,"hour":8,"dni":262},{"day":36,"hour":8,"dni":87},{"day":37,"hour":8,"dni":287},{"day":38,"hour":8,"dni":637},{"day":39,"hour":8,"dni":262},{"day":40,"hour":8,"dni":562},{"day":41,"hour":8,"dni":337},{"day":42,"hour":8,"dni":437},{"day":43,"hour":8,"dni":687},{"day":44,"hour":8,"dni":662},{"day":45,"hour":8,"dni":337},{"day":46,"hour":8,"dni":362},{"day":47,"hour":8,"dni":362},{"day":48,"hour":8,"dni":587},{"day":49,"hour":8,"dni":562},{"day":50,"hour":8,"dni":312},{"day":51,"hour":8,"dni":537},{"day":52,"hour":8,"dni":237},{"day":53,"hour":8,"dni":437},{"day":54,"hour":8,"dni":512},{"day":55,"hour":8,"dni":612},{"day":56,"hour":8,"dni":437},{"day":57,"hour":8,"dni":587},{"day":58,"hour":8,"dni":512},{"day":59,"hour":8,"dni":12},{"day":60,"hour":8,"dni":212},{"day":61,"hour":8,"dni":287},{"day":62,"hour":8,"dni":412},{"day":63,"hour":8,"dni":287},{"day":64,"hour":8,"dni":512},{"day":65,"hour":8,"dni":187},{"day":66,"hour":8,"dni":437},{"day":67,"hour":8,"dni":62},{"day":68,"hour":8,"dni":12},{"day":69,"hour":8,"dni":37},{"day":70,"hour":8,"dni":12},{"day":71,"hour":8,"dni":12},{"day":72,"hour":8,"dni":137},{"day":73,"hour":8,"dni":87},{"day":74,"hour":8,"dni":62},{"day":75,"hour":8,"dni":12},{"day":76,"hour":8,"dni":412},{"day":77,"hour":8,"dni":437},{"day":78,"hour":8,"dni":187},{"day":79,"hour":8,"dni":12},{"day":80,"hour":8,"dni":62},{"day":81,"hour":8,"dni":12},{"day":82,"hour":8,"dni":362},{"day":83,"hour":8,"dni":462},{"day":84,"hour":8,"dni":537},{"day":85,"hour":8,"dni":112},{"day":86,"hour":8,"dni":462},{"day":87,"hour":8,"dni":362},{"day":88,"hour":8,"dni":287},{"day":89,"hour":8,"dni":112},{"day":90,"hour":8,"dni":237},{"day":91,"hour":8,"dni":187},{"day":92,"hour":8,"dni":412},
{"day":1,"hour":7,"dni":12},{"day":2,"hour":7,"dni":87},{"day":3,"hour":7,"dni":112},{"day":4,"hour":7,"dni":312},{"day":5,"hour":7,"dni":12},{"day":6,"hour":7,"dni":37},{"day":7,"hour":7,"dni":112},{"day":8,"hour":7,"dni":412},{"day":9,"hour":7,"dni":12},{"day":10,"hour":7,"dni":12},{"day":11,"hour":7,"dni":12},{"day":12,"hour":7,"dni":237},{"day":13,"hour":7,"dni":287},{"day":14,"hour":7,"dni":187},{"day":15,"hour":7,"dni":362},{"day":16,"hour":7,"dni":87},{"day":17,"hour":7,"dni":212},{"day":18,"hour":7,"dni":137},{"day":19,"hour":7,"dni":312},{"day":20,"hour":7,"dni":312},{"day":21,"hour":7,"dni":237},{"day":22,"hour":7,"dni":162},{"day":23,"hour":7,"dni":87},{"day":24,"hour":7,"dni":12},{"day":25,"hour":7,"dni":137},{"day":26,"hour":7,"dni":62},{"day":27,"hour":7,"dni":287},{"day":28,"hour":7,"dni":12},{"day":29,"hour":7,"dni":212},{"day":30,"hour":7,"dni":62},{"day":31,"hour":7,"dni":12},{"day":32,"hour":7,"dni":187},{"day":33,"hour":7,"dni":437},{"day":34,"hour":7,"dni":312},{"day":35,"hour":7,"dni":162},{"day":36,"hour":7,"dni":137},{"day":37,"hour":7,"dni":212},{"day":38,"hour":7,"dni":387},{"day":39,"hour":7,"dni":237},{"day":40,"hour":7,"dni":312},{"day":41,"hour":7,"dni":412},{"day":42,"hour":7,"dni":87},{"day":43,"hour":7,"dni":462},{"day":44,"hour":7,"dni":412},{"day":45,"hour":7,"dni":262},{"day":46,"hour":7,"dni":312},{"day":47,"hour":7,"dni":312},{"day":48,"hour":7,"dni":237},{"day":49,"hour":7,"dni":162},{"day":50,"hour":7,"dni":187},{"day":51,"hour":7,"dni":362},{"day":52,"hour":7,"dni":112},{"day":53,"hour":7,"dni":287},{"day":54,"hour":7,"dni":212},{"day":55,"hour":7,"dni":462},{"day":56,"hour":7,"dni":187},{"day":57,"hour":7,"dni":437},{"day":58,"hour":7,"dni":287},{"day":59,"hour":7,"dni":12},{"day":60,"hour":7,"dni":12},{"day":61,"hour":7,"dni":287},{"day":62,"hour":7,"dni":287},{"day":63,"hour":7,"dni":187},{"day":64,"hour":7,"dni":362},{"day":65,"hour":7,"dni":87},{"day":66,"hour":7,"dni":212},{"day":67,"hour":7,"dni":137},{"day":68,"hour":7,"dni":12},{"day":69,"hour":7,"dni":62},{"day":70,"hour":7,"dni":112},{"day":71,"hour":7,"dni":12},{"day":72,"hour":7,"dni":12},{"day":73,"hour":7,"dni":137},{"day":74,"hour":7,"dni":37},{"day":75,"hour":7,"dni":12},{"day":76,"hour":7,"dni":287},{"day":77,"hour":7,"dni":212},{"day":78,"hour":7,"dni":237},{"day":79,"hour":7,"dni":12},{"day":80,"hour":7,"dni":12},{"day":81,"hour":7,"dni":12},{"day":82,"hour":7,"dni":287},{"day":83,"hour":7,"dni":237},{"day":84,"hour":7,"dni":312},{"day":85,"hour":7,"dni":12},{"day":86,"hour":7,"dni":312},{"day":87,"hour":7,"dni":87},{"day":88,"hour":7,"dni":137},{"day":89,"hour":7,"dni":12},{"day":90,"hour":7,"dni":87},{"day":91,"hour":7,"dni":12},{"day":92,"hour":7,"dni":187},
{"day":1,"hour":6,"dni":12},{"day":2,"hour":6,"dni":12},{"day":3,"hour":6,"dni":12},{"day":4,"hour":6,"dni":37},{"day":5,"hour":6,"dni":12},{"day":6,"hour":6,"dni":37},{"day":7,"hour":6,"dni":12},{"day":8,"hour":6,"dni":12},{"day":9,"hour":6,"dni":12},{"day":10,"hour":6,"dni":12},{"day":11,"hour":6,"dni":12},{"day":12,"hour":6,"dni":37},{"day":13,"hour":6,"dni":87},{"day":14,"hour":6,"dni":37},{"day":15,"hour":6,"dni":112},{"day":16,"hour":6,"dni":12},{"day":17,"hour":6,"dni":12},{"day":18,"hour":6,"dni":37},{"day":19,"hour":6,"dni":112},{"day":20,"hour":6,"dni":87},{"day":21,"hour":6,"dni":87},{"day":22,"hour":6,"dni":87},{"day":23,"hour":6,"dni":12},{"day":24,"hour":6,"dni":12},{"day":25,"hour":6,"dni":12},{"day":26,"hour":6,"dni":12},{"day":27,"hour":6,"dni":37},{"day":28,"hour":6,"dni":12},{"day":29,"hour":6,"dni":12},{"day":30,"hour":6,"dni":37},{"day":31,"hour":6,"dni":12},{"day":32,"hour":6,"dni":137},{"day":33,"hour":6,"dni":112},{"day":34,"hour":6,"dni":87},{"day":35,"hour":6,"dni":37},{"day":36,"hour":6,"dni":62},{"day":37,"hour":6,"dni":37},{"day":38,"hour":6,"dni":12},{"day":39,"hour":6,"dni":162},{"day":40,"hour":6,"dni":62},{"day":41,"hour":6,"dni":237},{"day":42,"hour":6,"dni":37},{"day":43,"hour":6,"dni":287},{"day":44,"hour":6,"dni":162},{"day":45,"hour":6,"dni":12},{"day":46,"hour":6,"dni":112},{"day":47,"hour":6,"dni":62},{"day":48,"hour":6,"dni":62},{"day":49,"hour":6,"dni":62},{"day":50,"hour":6,"dni":12},{"day":51,"hour":6,"dni":37},{"day":52,"hour":6,"dni":12},{"day":53,"hour":6,"dni":212},{"day":54,"hour":6,"dni":12},{"day":55,"hour":6,"dni":112},{"day":56,"hour":6,"dni":12},{"day":57,"hour":6,"dni":162},{"day":58,"hour":6,"dni":37},{"day":59,"hour":6,"dni":37},{"day":60,"hour":6,"dni":37},{"day":61,"hour":6,"dni":12},{"day":62,"hour":6,"dni":62},{"day":63,"hour":6,"dni":12},{"day":64,"hour":6,"dni":112},{"day":65,"hour":6,"dni":12},{"day":66,"hour":6,"dni":37},{"day":67,"hour":6,"dni":12},{"day":68,"hour":6,"dni":12},{"day":69,"hour":6,"dni":12},{"day":70,"hour":6,"dni":12},{"day":71,"hour":6,"dni":12},{"day":72,"hour":6,"dni":12},{"day":73,"hour":6,"dni":62},{"day":74,"hour":6,"dni":12},{"day":75,"hour":6,"dni":12},{"day":76,"hour":6,"dni":12},{"day":77,"hour":6,"dni":62},{"day":78,"hour":6,"dni":12},{"day":79,"hour":6,"dni":12},{"day":80,"hour":6,"dni":12},{"day":81,"hour":6,"dni":12},{"day":82,"hour":6,"dni":37},{"day":83,"hour":6,"dni":12},{"day":84,"hour":6,"dni":37},{"day":85,"hour":6,"dni":12},{"day":86,"hour":6,"dni":12},{"day":87,"hour":6,"dni":87},{"day":88,"hour":6,"dni":12},{"day":89,"hour":6,"dni":12},{"day":90,"hour":6,"dni":12},{"day":91,"hour":6,"dni":12},{"day":92,"hour":6,"dni":12}
],"bar":[{"lo":0,"hi":25},{"lo":25,"hi":50},{"lo":50,"hi":75},{"lo":75,"hi":100},{"lo":100,"hi":125},{"lo":125,"hi":150},{"lo":150,"hi":175},{"lo":175,"hi":200},{"lo":200,"hi":225},{"lo":225,"hi":250},{"lo":250,"hi":275},{"lo":275,"hi":300},{"lo":300,"hi":325},{"lo":325,"hi":350},{"lo":350,"hi":375},{"lo":375,"hi":400},{"lo":400,"hi":425},{"lo":425,"hi":450},{"lo":450,"hi":475},{"lo":475,"hi":500},{"lo":500,"hi":525},{"lo":525,"hi":550},{"lo":550,"hi":575},{"lo":575,"hi":600},{"lo":600,"hi":625},{"lo":625,"hi":650},{"lo":650,"hi":675},{"lo":675,"hi":700},{"lo":700,"hi":725},{"lo":725,"hi":750},{"lo":750,"hi":775},{"lo":775,"hi":800},{"lo":800,"hi":825},{"lo":825,"hi":850},{"lo":850,"hi":875},{"lo":875,"hi":900}]},"hconcat":[{"width":1414,"height":1010,"layer":[{"data":{"name":"cells"},"mark":{"type":"rect","strokeWidth":0.5},"encoding":{"x":{"field":"day","type":"ordinal","scale":{"paddingInner":0,"paddingOuter":0,"round":false},"axis":{"values":[15,30,45,60,75,90],"labelAngle":0,"labelFontSize":64,"labelPadding":8,"tickSize":22,"tickWidth":4,"tickColor":"black","domainColor":"black","domainWidth":4,"zindex":1,"title":"Day","titleFontSize":83,"titlePadding":4,"titleX":683}},"y":{"field":"hour","type":"ordinal","sort":"descending","scale":{"paddingInner":0,"paddingOuter":0,"round":false},"axis":{"values":[18,16,14,12,10,8,6],"labelExpr":"(datum.value<10?'0':'')+datum.value+':00'","labelFontSize":66,"labelPadding":18,"tickSize":22,"tickWidth":4,"tickColor":"black","domainColor":"black","domainWidth":4,"zindex":1,"title":"Time (h)","titleFontSize":83,"titlePadding":17}},"color":{"field":"dni","type":"quantitative","legend":null,"scale":{"type":"threshold","domain":[25,50,75,100,125,150,175,200,225,250,275,300,325,350,375,400,425,450,475,500,525,550,575,600,625,650,675,700,725,750,775,800,825,850,875],"range":["#2c4a74","#2f5180","#35588a","#3a5f95","#3e69a4","#4472b4","#5283bb","#6491c3","#749fca","#86b0d3","#94bfdd","#a2c9df","#afd2e5","#c1dfeb","#cfe7f1","#dff2f7","#e8eee0","#eeecce","#f3e8bc","#f8e5a8","#fedd8c","#fdcc80","#febc78","#fdaa6c","#fd9c60","#fd8d58","#f67b4e","#ee6844","#e5553a","#de4230","#d52e25","#c82c22","#bb2a21","#ac2720","#9f251e","#92231d"]}},"stroke":{"field":"dni","type":"quantitative","legend":null,"scale":{"type":"threshold","domain":[25,50,75,100,125,150,175,200,225,250,275,300,325,350,375,400,425,450,475,500,525,550,575,600,625,650,675,700,725,750,775,800,825,850,875],"range":["#2c4a74","#2f5180","#35588a","#3a5f95","#3e69a4","#4472b4","#5283bb","#6491c3","#749fca","#86b0d3","#94bfdd","#a2c9df","#afd2e5","#c1dfeb","#cfe7f1","#dff2f7","#e8eee0","#eeecce","#f3e8bc","#f8e5a8","#fedd8c","#fdcc80","#febc78","#fdaa6c","#fd9c60","#fd8d58","#f67b4e","#ee6844","#e5553a","#de4230","#d52e25","#c82c22","#bb2a21","#ac2720","#9f251e","#92231d"]}}}},{"data":{"name":"cells"},"mark":{"type":"rect","opacity":0},"encoding":{"x":{"field":"day","type":"ordinal","axis":{"orient":"top","labels":false,"ticks":false,"title":null,"domainColor":"black","domainWidth":4,"zindex":1}},"y":{"field":"hour","type":"ordinal","sort":"descending","axis":{"orient":"right","labels":false,"ticks":false,"title":null,"domainColor":"black","domainWidth":4,"zindex":1}}}}],"resolve":{"axis":{"x":"independent","y":"independent"}}},{"width":31,"height":1012,"data":{"name":"bar"},"mark":{"type":"rect"},"encoding":{"y":{"field":"lo","type":"quantitative","scale":{"domain":[0,900],"nice":false},"axis":{"orient":"right","values":[0,150,300,450,600,750,900],"labelFontSize":64,"labelPadding":24,"tickSize":22,"tickWidth":2.5,"tickColor":"black","domainColor":"black","domainWidth":3,"zindex":1,"title":"Dni (W/m²)","titleFontSize":83,"titleAngle":-90,"titleBaseline":"top","titlePadding":34}},"y2":{"field":"hi"},"color":{"field":"lo","type":"quantitative","legend":null,"scale":{"type":"threshold","domain":[25,50,75,100,125,150,175,200,225,250,275,300,325,350,375,400,425,450,475,500,525,550,575,600,625,650,675,700,725,750,775,800,825,850,875],"range":["#2c4a74","#2f5180","#35588a","#3a5f95","#3e69a4","#4472b4","#5283bb","#6491c3","#749fca","#86b0d3","#94bfdd","#a2c9df","#afd2e5","#c1dfeb","#cfe7f1","#dff2f7","#e8eee0","#eeecce","#f3e8bc","#f8e5a8","#fedd8c","#fdcc80","#febc78","#fdaa6c","#fd9c60","#fd8d58","#f67b4e","#ee6844","#e5553a","#de4230","#d52e25","#c82c22","#bb2a21","#ac2720","#9f251e","#92231d"]}}},"view":{"stroke":"black","strokeWidth":5}}],"resolve":{"scale":{"color":"independent","stroke":"independent"}}}
